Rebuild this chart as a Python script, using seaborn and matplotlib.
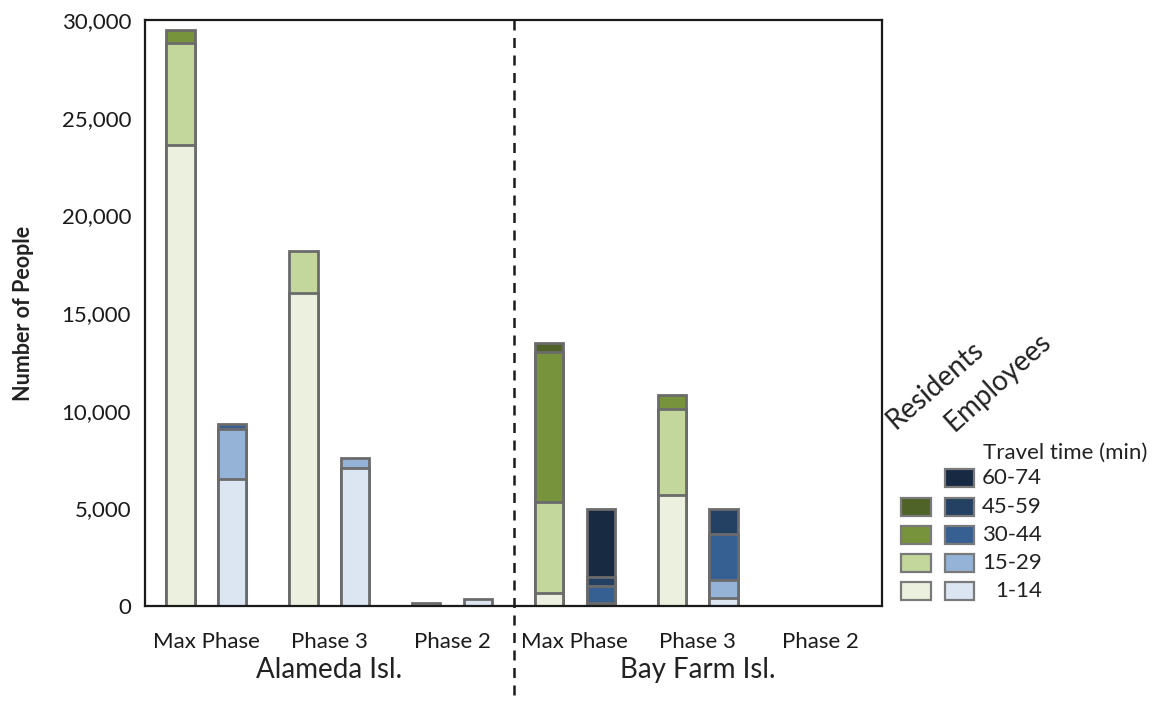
import numpy as np
import pandas as pd
import seaborn as sns
import matplotlib.pyplot as plt
from matplotlib.patches import Rectangle
from matplotlib.transforms import blended_transform_factory


slots = ['Alameda Max Phase', 'Alameda Phase 3', 'Alameda Phase 2',
         'Bay Farm Max Phase', 'Bay Farm Phase 3', 'Bay Farm Phase 2']
phase_labels = ['Max Phase', 'Phase 3', 'Phase 2', 'Max Phase', 'Phase 3', 'Phase 2']
islands = ['Alameda Isl.', 'Bay Farm Isl.']
bins = ['1-14', '15-29', '30-44', '45-59', '60-74']

# residents by travel time (min)
res_1_14 = [23600, 16000, 150, 680, 5700, 0]
res_15_29 = [5200, 2150, 0, 4660, 4400, 0]
res_30_44 = [700, 0, 0, 7660, 700, 0]
res_45_59 = [0, 0, 0, 450, 0, 0]

# employees by travel time (min)
emp_1_14 = [6500, 7050, 350, 40, 400, 0]
emp_15_29 = [2550, 550, 0, 130, 930, 0]
emp_30_44 = [250, 0, 0, 840, 2340, 0]
emp_45_59 = [0, 0, 0, 490, 1280, 0]
emp_60_74 = [0, 0, 0, 3480, 0, 0]

res_colors = ['#ebf1de', '#c3d69b', '#77933c', '#4f6228']
emp_colors = ['#dce6f2', '#95b3d7', '#366092', '#244062', '#172a42']
edge = '#6b6b6b'

rows = []
for group, layers in [('Residents', [res_1_14, res_15_29, res_30_44, res_45_59]),
                      ('Employees', [emp_1_14, emp_15_29, emp_30_44, emp_45_59, emp_60_74])]:
    for i, vals in enumerate(layers):
        for s, v in zip(slots, vals):
            rows.append({'slot': s, 'group': group, 'bin': i, 'value': v})
df = pd.DataFrame(rows)
df['cum'] = df.groupby(['group', 'slot'])['value'].cumsum()

sns.set_style('white')
plt.rcParams['font.family'] = ['Lato', 'DejaVu Sans']
plt.rcParams['text.color'] = '#222222'
plt.rcParams['xtick.color'] = '#1a1a1a'
plt.rcParams['ytick.color'] = '#1a1a1a'

fig = plt.figure(figsize=(11.71, 7.12), dpi=100)
ax = fig.add_axes([145 / 1171, 1 - 606 / 712, 737 / 1171, 586 / 712])

# stacked bars: draw the tallest cumulative layer first, lower layers on top
for i in reversed(range(len(bins))):
    layer = df[(df['bin'] == i) & (df['value'] > 0)]
    if layer.empty:
        continue
    pal = {'Residents': res_colors[i] if i < len(res_colors) else 'white',
           'Employees': emp_colors[i]}
    sns.barplot(data=layer, x='slot', y='cum', hue='group', order=slots,
                hue_order=['Residents', 'Employees'], palette=pal,
                width=0.84, gap=0.45, dodge=True, errorbar=None,
                edgecolor=edge, linewidth=2, saturation=1, legend=False, ax=ax)

ax.set_xlim(-0.5, 5.5)
ax.set_ylim(0, 30000)
ax.set_xlabel('')
ax.set_ylabel('')
ax.set_yticks(range(0, 30001, 5000))
ax.set_yticklabels([f'{v:,}' for v in range(0, 30001, 5000)], fontsize=16)
ax.set_xticks(np.arange(-0.5, 6, 1), labels=[''] * 7)
ax.set_xticks(range(6), labels=phase_labels, minor=True, fontsize=16)
ax.tick_params(axis='x', which='major', length=8, width=1.4, direction='out')
ax.tick_params(axis='x', which='minor', length=0, pad=19)
ax.tick_params(axis='y', length=7, width=1.2, direction='out', pad=3)
for sp in ax.spines.values():
    sp.set_visible(True)
    sp.set_color('#1a1a1a')
    sp.set_linewidth(1.6)

trans = blended_transform_factory(ax.transData, ax.transAxes)
ax.plot([2.5, 2.5], [1, -0.16], transform=trans, clip_on=False,
        color='#1a1a1a', lw=1.8, ls=(0, (4, 3)))
ax.text(1, -0.11, islands[0], transform=trans, ha='center', va='center', fontsize=20)
ax.text(4, -0.11, islands[1], transform=trans, ha='center', va='center', fontsize=20)

fig.text(24 / 1171, 1 - 313 / 712, 'Number of People', rotation=90,
         ha='center', va='center', fontsize=15.5, fontweight='bold')

# legend drawn in pixel coordinates
lg = fig.add_axes([0, 0, 1, 1])
lg.set_xlim(0, 1171)
lg.set_ylim(712, 0)
lg.axis('off')
lg.patch.set_alpha(0)
lg.text(896, 430, 'Residents', rotation=41, rotation_mode='anchor',
        ha='left', va='baseline', fontsize=20)
lg.text(954, 432, 'Employees', rotation=42, rotation_mode='anchor',
        ha='left', va='baseline', fontsize=20)
lg.text(983, 453, 'Travel time (min)', ha='left', va='center', fontsize=16)
row_y = [591, 563, 535, 507, 478]
for i, lab in enumerate(bins):
    y = row_y[i]
    if i < len(res_colors):
        lg.add_patch(Rectangle((901, y - 9), 30, 18, fc=res_colors[i], ec='#7a7a7a', lw=1.6))
    lg.add_patch(Rectangle((945, y - 9), 29, 18, fc=emp_colors[i], ec='#7a7a7a', lw=1.6))
    lg.text(1042, y, lab, ha='right', va='center', fontsize=16)

fig.savefig('out.png', dpi=100)
